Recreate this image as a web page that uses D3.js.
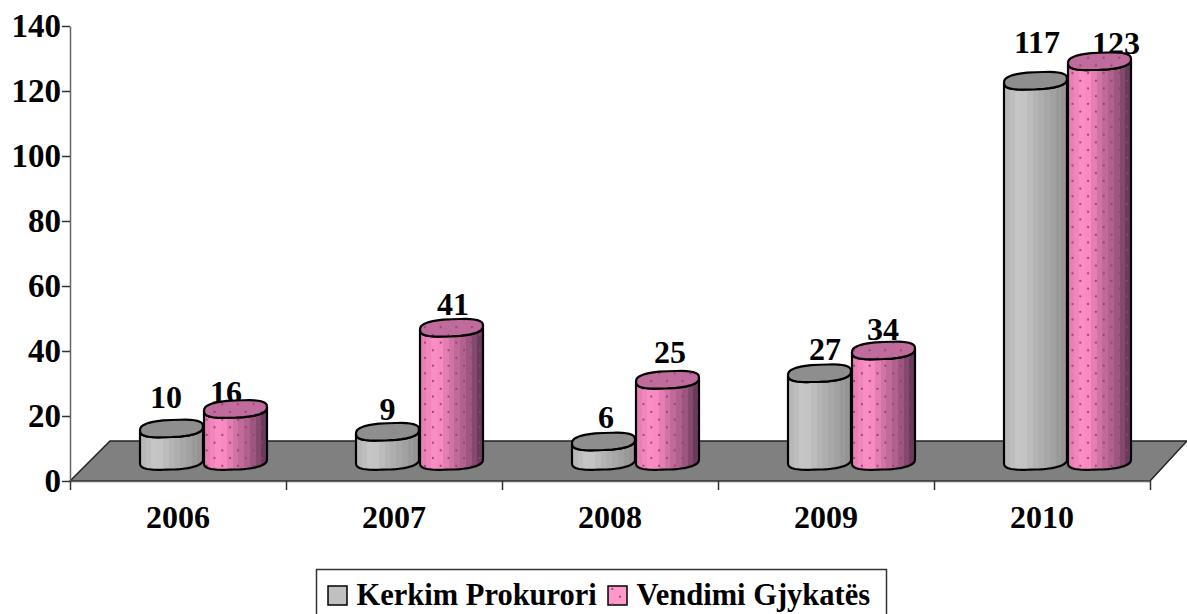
<!DOCTYPE html>
<html>
<head>
<meta charset="utf-8">
<script src="https://cdn.jsdelivr.net/npm/d3@7"></script>
<style>
html, body { margin: 0; padding: 0; background: #fff; overflow: hidden; }
text { font-family: "Liberation Serif", serif; font-weight: bold; fill: #000; }
</style>
</head>
<body>
<div id="chart"></div>
<script>
var years = ["2006", "2007", "2008", "2009", "2010"];
var seriesNames = ["Kerkim Prokurori", "Vendimi Gjykatës"];
var kerkim = [10, 9, 6, 27, 117];
var vendimi = [16, 41, 25, 34, 123];
var yTicks = [0, 20, 40, 60, 80, 100, 120, 140];

var svg = d3.select("#chart")
        .append("svg")
        .attr("width", 1187)
        .attr("height", 614);

var y = d3.scaleLinear().domain([0, 140]).range([481, 26]);
var x = d3.scaleBand().domain(years).range([70, 1150]);
var series = d3.scaleBand().domain([0, 1]).range([-64, 64]);
var edges = d3.scaleLinear().domain([0, 5]).range([70, 1150]);

// the 3d floor sits up and to the right of the axes
var depthX = 40, depthY = 40;
var barShift = 25.5, baseY = depthY / 2;
var rx = 31.5, ry = 8.5, skew = 2;

var defs = svg.append("defs");

function stripes(id, ramp) {
    var grad = defs.append("linearGradient").attr("id", id);
    var n = 11;
    d3.range(n).forEach(function (i) {
        var col = ramp(i / (n - 1));
        grad.append("stop").attr("offset", i / n).attr("stop-color", col);
        grad.append("stop").attr("offset", (i + 1) / n).attr("stop-color", col);
    });
}
stripes("gray", d3.piecewise(d3.interpolateRgb, ["#b8b8b8", "#c8c8c8", "#b4b4b4", "#a4a4a4", "#949494"]));
stripes("pink", d3.piecewise(d3.interpolateRgb, ["#e880b4", "#ff90c8", "#d074a6", "#a85c88", "#6a3c5c"]));

var dots = defs.append("pattern")
        .attr("id", "dots")
        .attr("patternUnits", "userSpaceOnUse")
        .attr("width", 15.6)
        .attr("height", 15.4);
[[3.9, 3.8], [11.7, 11.5]].forEach(function (d) {
    dots.append("circle")
        .attr("cx", d[0])
        .attr("cy", d[1])
        .attr("r", 1.1)
        .attr("fill", "#9a3c74");
});

// floor
svg.append("path")
        .attr("d", d3.line()([
            [edges(0), y(0)], [edges(5), y(0)],
            [edges(5) + depthX - 3, y(0) - depthY], [edges(0) + depthX, y(0) - depthY]
        ]) + "Z")
        .attr("fill", "#808080")
        .attr("stroke", "#222")
        .attr("stroke-width", 1.5);

// axes
var yAxis = svg.append("g")
        .attr("transform", "translate(70,0)")
        .call(d3.axisLeft(y).tickValues(yTicks).tickSize(8).tickSizeOuter(0).tickPadding(1));
var xAxis = svg.append("g")
        .attr("transform", "translate(0,481)")
        .call(d3.axisBottom(edges).ticks(5).tickSize(9).tickSizeOuter(0).tickFormat(""));
var xLabels = svg.append("g")
        .attr("transform", "translate(0,481)")
        .call(d3.axisBottom(x).tickSize(0).tickPadding(24));
xLabels.select(".domain").remove();

[yAxis, xAxis].forEach(function (a) {
    a.selectAll("path").attr("stroke", "#666").attr("stroke-width", 1.5);
    a.selectAll("line").attr("stroke", "#333").attr("stroke-width", 1.5);
});
yAxis.selectAll("text").attr("font-size", 33).attr("fill", "#000")
        .style("font-family", '"Liberation Serif", serif').style("font-weight", "bold");
xLabels.selectAll("text").attr("font-size", 32).attr("fill", "#000")
        .style("font-family", '"Liberation Serif", serif').style("font-weight", "bold");

function squarish(v) {
    return Math.sign(v) * Math.pow(Math.abs(v), 0.75);
}

function rim(cx, cy, from, to) {
    return d3.range(0, 37).map(function (i) {
        var t = from + (to - from) * i / 36;
        return [cx + rx * squarish(Math.cos(t)), cy + ry * squarish(Math.sin(t)) - skew * Math.cos(t)];
    });
}

var line = d3.line();

function cylinder(g, cx, value, side, hasDots) {
    var top = y(value) - baseY, bottom = y(0) - baseY;
    var body = line(rim(cx, top, Math.PI, 0).reverse().concat(rim(cx, bottom, 0, Math.PI).reverse())) + "Z";
    var cap = line(rim(cx, top, 0, 2 * Math.PI)) + "Z";

    g.append("path").attr("d", body).attr("fill", "url(#" + side + ")");
    if (hasDots) {
        g.append("path").attr("d", body).attr("fill", "url(#dots)");
    }
    g.append("path").attr("d", body).attr("fill", "none").attr("stroke", "#000").attr("stroke-width", 2.2);
    g.append("path").attr("d", cap)
        .attr("fill", hasDots ? "#bf6c9c" : "#8e8e8e");
    if (hasDots) {
        g.append("path").attr("d", cap).attr("fill", "url(#dots)");
    }
    g.append("path").attr("d", cap).attr("fill", "none").attr("stroke", "#000").attr("stroke-width", 2.2);
}

// value labels go under the bars, the original left them off centre by varying amounts
var kerkimNudgeX = [-5.5, 0, 2.5, 5.5, 1.5];
var vendimiNudgeX = [-9.5, 1.5, 2.5, -0.5, 16.5];
var kerkimNudgeY = [-21, -12, -14, -13, -28];
var vendimiNudgeY = [-6, -13, -17, -11, -7];

function barX(i, s) {
    return x(years[i]) + x.bandwidth() / 2 + barShift + series(s) + series.bandwidth() / 2;
}

[kerkim, vendimi].forEach(function (vals, s) {
    var nudgeX = s === 0 ? kerkimNudgeX : vendimiNudgeX;
    var nudgeY = s === 0 ? kerkimNudgeY : vendimiNudgeY;
    svg.append("g").selectAll("text")
        .data(vals)
        .join("text")
        .attr("x", function (d, i) { return barX(i, s) + nudgeX[i]; })
        .attr("y", function (d, i) { return y(d) - baseY + nudgeY[i]; })
        .attr("text-anchor", "middle")
        .attr("font-size", 32)
        .text(function (d) { return d; });
});

years.forEach(function (yr, i) {
    var g = svg.append("g");
    cylinder(g, barX(i, 0), kerkim[i], "gray", false);
    cylinder(g, barX(i, 1), vendimi[i], "pink", true);
});

// legend
var legend = svg.append("g");
legend.append("rect")
        .attr("x", 316.5)
        .attr("y", 569.5)
        .attr("width", 570)
        .attr("height", 46)
        .attr("fill", "#fff")
        .attr("stroke", "#333")
        .attr("stroke-width", 1.5);

var legendX = [328, 608];
seriesNames.forEach(function (name, s) {
    legend.append("rect")
        .attr("x", legendX[s])
        .attr("y", 586)
        .attr("width", 19)
        .attr("height", 19)
        .attr("fill", s === 0 ? "#c0c0c0" : "#ff99cc")
        .attr("stroke", "#000")
        .attr("stroke-width", 1.5);
    if (s === 1) {
        legend.append("rect")
            .attr("x", legendX[s])
            .attr("y", 586)
            .attr("width", 19)
            .attr("height", 19)
            .attr("fill", "url(#dots)");
    }
    legend.append("text")
        .attr("x", legendX[s] + 28.5)
        .attr("y", 605)
        .attr("font-size", 30.5)
        .text(name);
});
</script>
</body>
</html>
